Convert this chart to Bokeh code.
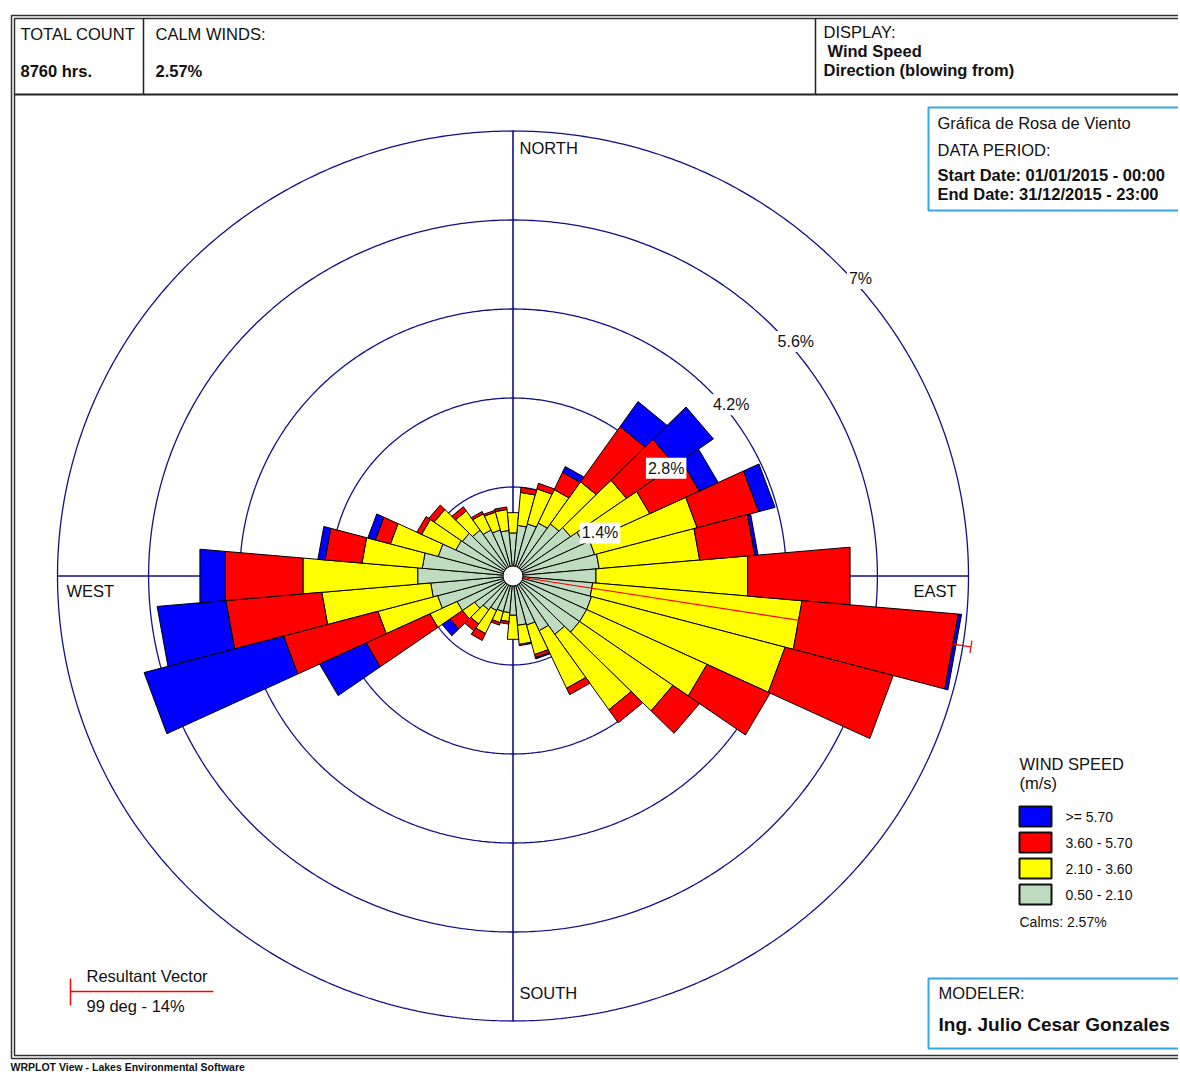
import numpy as np
from bokeh.plotting import figure
from bokeh.models import Range1d, Label
from bokeh.embed import file_html
from bokeh.resources import INLINE

# ---------------- data ----------------
directions = [0, 10, 20, 30, 40, 50, 60, 70, 80, 90, 100, 110, 120, 130, 140, 150, 160, 170,
              180, 190, 200, 210, 220, 230, 240, 250, 260, 270, 280, 290, 300, 310, 320, 330, 340, 350]
# percent of hours per speed class (m/s)
freq_050_210 = [0.68, 0.80, 0.85, 0.92, 1.00, 1.08, 1.20, 1.30, 1.33, 1.28, 1.23, 1.25, 1.25, 1.25, 1.12, 0.95, 0.80, 0.78,
                0.62, 0.58, 0.58, 0.60, 0.65, 0.72, 0.95, 1.20, 1.27, 1.47, 1.40, 1.19, 0.97, 0.95, 0.88, 0.80, 0.75, 0.72]
freq_210_360 = [0.32, 0.52, 0.57, 0.58, 0.81, 1.05, 1.12, 1.63, 1.55, 2.34, 3.23, 3.08, 2.04, 1.75, 1.45, 1.00, 0.48, 0.30,
                0.38, 0.14, 0.18, 0.40, 0.27, 0.23, 0.46, 0.95, 1.68, 1.77, 0.93, 0.76, 0.58, 0.53, 0.37, 0.28, 0.29, 0.33]
freq_360_570 = [0.00, 0.08, 0.09, 0.30, 1.06, 0.91, 0.84, 0.98, 0.85, 1.58, 2.41, 1.72, 1.07, 0.50, 0.25, 0.11, 0.05, 0.02,
                0.00, 0.04, 0.04, 0.12, 0.13, 0.23, 1.08, 1.50, 1.48, 1.20, 0.57, 0.24, 0.08, 0.10, 0.08, 0.04, 0.03, 0.04]
freq_ge_570 = [0.00, 0.00, 0.00, 0.10, 0.48, 0.72, 0.32, 0.26, 0.05, 0.00, 0.05, 0.00, 0.00, 0.00, 0.00, 0.00, 0.02, 0.00,
               0.00, 0.00, 0.00, 0.00, 0.00, 0.15, 0.79, 2.22, 1.06, 0.39, 0.11, 0.12, 0.00, 0.00, 0.00, 0.00, 0.00, 0.00]

speed_labels = [">= 5.70", "3.60 - 5.70", "2.10 - 3.60", "0.50 - 2.10"]
speed_colors = ["#0000FF", "#FF0000", "#FFFF00", "#C0DCC0"]
ring_levels = [1.4, 2.8, 4.2, 5.6, 7.0]
ring_labels = ["1.4%", "2.8%", "4.2%", "5.6%", "7%"]
compass_names = ["NORTH", "EAST", "SOUTH", "WEST"]
total_count = "8760 hrs."
calm_winds = "2.57%"
resultant_deg = 99
resultant_pct = 14

# ---------------- layout helpers (page pixel -> data) ----------------
SX, SY = 65.07, 63.57          # px per percent (x, y)
CX, CY = 512.5, 575.5          # rose centre on page
W, H = 1178, 1075
OX, OY = 0, 0


def X(px):
    return (px - CX) / SX


def Y(py):
    return (CY - py) / SY


p = figure(width=W, height=H, output_backend="svg", toolbar_location=None,
           x_range=Range1d(X(OX), X(OX + W)), y_range=Range1d(Y(OY + H), Y(OY)),
           x_axis_location=None, y_axis_location=None, min_border=0,
           background_fill_color="white", border_fill_color="white")
p.grid.visible = False
p.outline_line_color = None

FONT = "Liberation Sans"
NAVY = "#101088"


def label(px, py, text, size=16.5, bold=False, align="left", color="#111111", bg=None):
    lab = Label(x=X(px), y=Y(py), text=text, text_font=FONT, text_font_size=f"{size}px",
                text_font_style="bold" if bold else "normal", text_align=align,
                text_baseline="middle", text_color=color)
    if bg is not None:
        lab.background_fill_color = bg
        lab.padding = 1
    p.add_layout(lab)


def box(x0, y0, x1, y1, color, width):
    p.quad(left=X(x0), right=X(x1), top=Y(y0), bottom=Y(y1), fill_color=None,
           line_color=color, line_width=width)


# ---------------- frame & header ----------------
box(11, 15, 1200, 1058, "#333333", 1.5)
box(14, 18, 1200, 1055, "#333333", 1.5)
p.segment(x0=[X(14)], y0=[Y(94)], x1=[X(1200)], y1=[Y(94)], line_color="#222222", line_width=2)
p.segment(x0=[X(143), X(815)], y0=[Y(18), Y(18)], x1=[X(143), X(815)], y1=[Y(94), Y(94)],
          line_color="#222222", line_width=1.5)
label(20, 33, "TOTAL COUNT")
label(20, 70, total_count, bold=True)
label(155, 33, "CALM WINDS:")
label(155, 70, calm_winds, bold=True)
label(823, 31, "DISPLAY:")
label(827, 50, "Wind Speed", bold=True)
label(823, 69, "Direction (blowing from)", bold=True)

# info boxes
box(928, 107, 1200, 210, "#35A8E0", 2)
label(937, 122, "Gráfica de Rosa de Viento")
label(937, 149, "DATA PERIOD:")
label(937, 174, "Start Date: 01/01/2015 - 00:00", bold=True)
label(937, 193, "End Date: 31/12/2015 - 23:00", bold=True)
box(928, 978, 1200, 1048, "#35A8E0", 2)
label(938, 992, "MODELER:")
label(938, 1024, "Ing. Julio Cesar Gonzales", size=19, bold=True)

# ---------------- rings & axes ----------------
t = np.linspace(0, 2 * np.pi, 721)
p.multi_line([list(r * np.sin(t)) for r in ring_levels], [list(r * np.cos(t)) for r in ring_levels],
             line_color=NAVY, line_width=1.3)
rmax = ring_levels[-1]
p.segment(x0=[0, -rmax], y0=[-rmax, 0], x1=[0, rmax], y1=[rmax, 0], line_color=NAVY, line_width=1.6)

# ---------------- wind rose bars ----------------
classes = [freq_050_210, freq_210_360, freq_360_570, freq_ge_570]
fills = speed_colors[::-1]
half = 5.0
cum = np.zeros(len(directions))
for vals, col in zip(classes, fills):
    inner = cum.copy()
    cum = cum + np.array(vals)
    xs, ys = [], []
    for d, r0, r1 in zip(directions, inner, cum):
        if r1 - r0 <= 0:
            continue
        a0, a1 = np.radians(d - half), np.radians(d + half)
        xs.append([r0 * np.sin(a0), r1 * np.sin(a0), r1 * np.sin(a1), r0 * np.sin(a1)])
        ys.append([r0 * np.cos(a0), r1 * np.cos(a0), r1 * np.cos(a1), r0 * np.cos(a1)])
    p.patches(xs, ys, fill_color=col, line_color="black", line_width=1)

# resultant vector
ar = np.radians(resultant_deg)
rv = rmax * 1.018
p.line([0, rv * np.sin(ar)], [0, rv * np.cos(ar)], line_color="red", line_width=1.2)
tk = 0.1
p.segment(x0=[rv * np.sin(ar) - tk * np.cos(ar)], y0=[rv * np.cos(ar) + tk * np.sin(ar)],
          x1=[rv * np.sin(ar) + tk * np.cos(ar)], y1=[rv * np.cos(ar) - tk * np.sin(ar)],
          line_color="red", line_width=1.2)

# calm circle
p.scatter([0], [0], marker="circle", size=20, fill_color="white", line_color="black", line_width=1)

# ring labels (placed where the ring meets a diagonal)
c = 0.66
for r, txt in zip(ring_levels, ring_labels):
    rr = r + 0.1
    xx = (c + np.sqrt(2 * rr * rr - c * c)) / 2
    yy = xx - c
    lab = Label(x=xx, y=yy, text=txt, text_font=FONT, text_font_size="16px", text_align="center",
                text_baseline="middle", text_color="#111111", background_fill_color="white", padding=2)
    p.add_layout(lab)

# compass labels
label(519, 147, compass_names[0])
label(913, 590, compass_names[1])
label(519, 992, compass_names[2])
label(66, 590, compass_names[3])

# ---------------- legend ----------------
label(1019, 763, "WIND SPEED")
label(1019, 782, "(m/s)")
sw_tops = [806, 832, 858, 884]
for top, col, txt in zip(sw_tops, speed_colors, speed_labels):
    p.quad(left=X(1019), right=X(1051), top=Y(top), bottom=Y(top + 20), fill_color=col,
           line_color="#111111", line_width=2)
    label(1065, top + 10, txt, size=14)
label(1019, 921, f"Calms: {calm_winds}", size=14)

# resultant vector legend
p.segment(x0=[X(70), X(70)], y0=[Y(978), Y(991)], x1=[X(70), X(213)], y1=[Y(1005), Y(991)],
          line_color="red", line_width=1.5)
label(86, 975, "Resultant Vector")
label(86, 1005, f"{resultant_deg} deg - {resultant_pct}%")

label(10, 1066, "WRPLOT View - Lakes Environmental Software", size=10.5, bold=True)

open("out.html", "w").write(file_html(p, INLINE))
